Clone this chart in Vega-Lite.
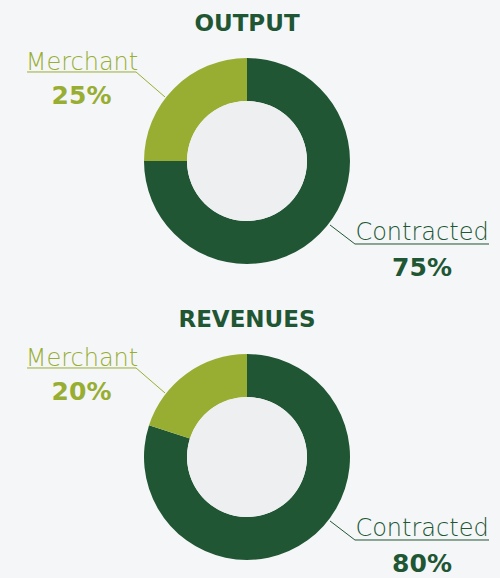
{
  "$schema": "https://vega.github.io/schema/vega-lite/v6.json",
  "background": "#f5f6f8",
  "padding": {"top": 13, "left": 0, "right": 6, "bottom": 0},
  "data": {"values": [
    {"chart": "OUTPUT", "segment": "Contracted", "share": 0.75},
    {"chart": "OUTPUT", "segment": "Merchant", "share": 0.25},
    {"chart": "REVENUES", "segment": "Contracted", "share": 0.80},
    {"chart": "REVENUES", "segment": "Merchant", "share": 0.20}
  ]},
  "facet": {
    "field": "chart", "type": "nominal", "sort": ["OUTPUT", "REVENUES"],
    "header": {"title": null, "labelFont": "DejaVu Sans", "labelFontSize": 23, "labelFontWeight": "bold", "labelColor": "#205633", "labelPadding": 4}
  },
  "columns": 1,
  "spacing": 27,
  "spec": {
    "width": 494,
    "height": 242,
    "layer": [
      {
        "mark": {"type": "arc", "radius": 103, "innerRadius": 60},
        "encoding": {
          "theta": {"field": "share", "type": "quantitative", "stack": true},
          "color": {"field": "segment", "type": "nominal", "scale": {"domain": ["Contracted", "Merchant"], "range": ["#205633", "#97ae32"]}, "legend": null},
          "order": {"field": "segment", "type": "nominal", "sort": "ascending"}
        }
      },
      {
        "transform": [{"filter": "datum.segment == 'Merchant'"}],
        "mark": {"type": "arc", "radius": 60, "theta": 0, "theta2": 6.2832, "color": "#eeeff1"},
        "encoding": {}
      },
      {
        "transform": [{"filter": "datum.segment == 'Merchant'"}],
        "mark": {"type": "rule", "color": "#97ae32", "strokeWidth": 1},
        "encoding": {
          "x": {"datum": -2.115, "type": "quantitative", "scale": {"domain": [-2.375, 2.375], "nice": false, "zero": false}},
          "x2": {"datum": -1.067},
          "y": {"datum": 0.856, "type": "quantitative", "scale": {"domain": [-1.1635, 1.1635], "nice": false, "zero": false}},
          "y2": {"datum": 0.856}
        }
      },
      {
        "transform": [{"filter": "datum.segment == 'Merchant'"}],
        "mark": {"type": "rule", "color": "#97ae32", "strokeWidth": 1},
        "encoding": {
          "x": {"datum": -1.067, "type": "quantitative", "scale": {"domain": [-2.375, 2.375], "nice": false, "zero": false}},
          "x2": {"datum": -0.788},
          "y": {"datum": 0.856, "type": "quantitative", "scale": {"domain": [-1.1635, 1.1635], "nice": false, "zero": false}},
          "y2": {"datum": 0.615}
        }
      },
      {
        "transform": [{"filter": "datum.segment == 'Contracted'"}],
        "mark": {"type": "rule", "color": "#205633", "strokeWidth": 1},
        "encoding": {
          "x": {"datum": 1.038, "type": "quantitative", "scale": {"domain": [-2.375, 2.375], "nice": false, "zero": false}},
          "x2": {"datum": 2.327},
          "y": {"datum": -0.798, "type": "quantitative", "scale": {"domain": [-1.1635, 1.1635], "nice": false, "zero": false}},
          "y2": {"datum": -0.798}
        }
      },
      {
        "transform": [{"filter": "datum.segment == 'Contracted'"}],
        "mark": {"type": "rule", "color": "#205633", "strokeWidth": 1},
        "encoding": {
          "x": {"datum": 0.798, "type": "quantitative", "scale": {"domain": [-2.375, 2.375], "nice": false, "zero": false}},
          "x2": {"datum": 1.038},
          "y": {"datum": -0.615, "type": "quantitative", "scale": {"domain": [-1.1635, 1.1635], "nice": false, "zero": false}},
          "y2": {"datum": -0.798}
        }
      },
      {
        "transform": [{"filter": "datum.segment == 'Merchant'"}],
        "mark": {"type": "text", "font": "DejaVu Sans", "fontSize": 24, "fontWeight": 200, "color": "#97ae32", "align": "center", "baseline": "alphabetic"},
        "encoding": {
          "text": {"field": "segment", "type": "nominal"},
          "x": {"datum": -1.587, "type": "quantitative", "scale": {"domain": [-2.375, 2.375], "nice": false, "zero": false}},
          "y": {"datum": 0.875, "type": "quantitative", "scale": {"domain": [-1.1635, 1.1635], "nice": false, "zero": false}}
        }
      },
      {
        "transform": [{"filter": "datum.segment == 'Merchant'"}],
        "mark": {"type": "text", "font": "DejaVu Sans", "fontSize": 25, "fontWeight": "bold", "color": "#97ae32", "align": "center", "baseline": "alphabetic"},
        "encoding": {
          "text": {"field": "share", "type": "quantitative", "format": ".0%"},
          "x": {"datum": -1.591, "type": "quantitative", "scale": {"domain": [-2.375, 2.375], "nice": false, "zero": false}},
          "y": {"datum": 0.548, "type": "quantitative", "scale": {"domain": [-1.1635, 1.1635], "nice": false, "zero": false}}
        }
      },
      {
        "transform": [{"filter": "datum.segment == 'Contracted'"}],
        "mark": {"type": "text", "font": "DejaVu Sans", "fontSize": 24, "fontWeight": 200, "color": "#205633", "align": "center", "baseline": "alphabetic"},
        "encoding": {
          "text": {"field": "segment", "type": "nominal"},
          "x": {"datum": 1.683, "type": "quantitative", "scale": {"domain": [-2.375, 2.375], "nice": false, "zero": false}},
          "y": {"datum": -0.76, "type": "quantitative", "scale": {"domain": [-1.1635, 1.1635], "nice": false, "zero": false}}
        }
      },
      {
        "transform": [{"filter": "datum.segment == 'Contracted'"}],
        "mark": {"type": "text", "font": "DejaVu Sans", "fontSize": 25, "fontWeight": "bold", "color": "#205633", "align": "center", "baseline": "alphabetic"},
        "encoding": {
          "text": {"field": "share", "type": "quantitative", "format": ".0%"},
          "x": {"datum": 1.683, "type": "quantitative", "scale": {"domain": [-2.375, 2.375], "nice": false, "zero": false}},
          "y": {"datum": -1.106, "type": "quantitative", "scale": {"domain": [-1.1635, 1.1635], "nice": false, "zero": false}}
        }
      }
    ]
  },
  "config": {
    "view": {"stroke": null},
    "axis": {"disable": true}
  }
}
